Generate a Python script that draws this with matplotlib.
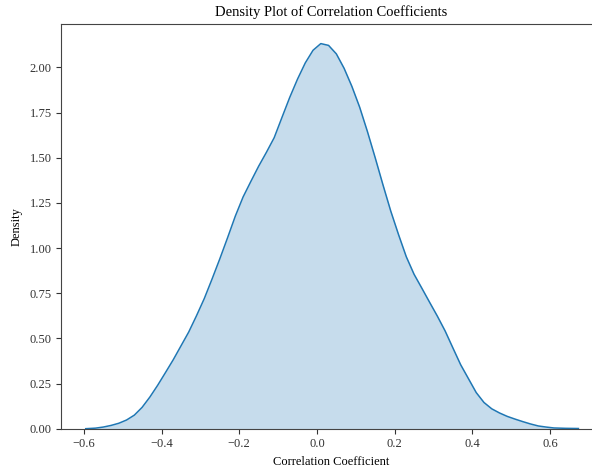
import matplotlib
matplotlib.use('Agg')
import matplotlib.pyplot as plt

# KDE curve
corr_x = [-0.595, -0.57, -0.55, -0.53, -0.51, -0.49, -0.47, -0.45, -0.43,
          -0.41, -0.39, -0.37, -0.35, -0.33, -0.31, -0.29, -0.27, -0.25,
          -0.23, -0.21, -0.19, -0.17, -0.15, -0.13, -0.11, -0.09, -0.07,
          -0.05, -0.03, -0.01, 0.01, 0.03, 0.05, 0.07, 0.09, 0.11, 0.13,
          0.15, 0.17, 0.19, 0.21, 0.23, 0.25, 0.27, 0.29, 0.31, 0.33, 0.35,
          0.37, 0.39, 0.41, 0.43, 0.45, 0.47, 0.49, 0.51, 0.53, 0.55, 0.57,
          0.59, 0.61, 0.64, 0.673]
density = [0.000, 0.003, 0.009, 0.018, 0.030, 0.048, 0.075, 0.118, 0.175,
           0.240, 0.310, 0.381, 0.458, 0.535, 0.625, 0.720, 0.828, 0.940,
           1.057, 1.177, 1.283, 1.369, 1.453, 1.530, 1.611, 1.723, 1.834,
           1.935, 2.025, 2.095, 2.132, 2.122, 2.075, 1.995, 1.895, 1.780,
           1.645, 1.500, 1.350, 1.205, 1.075, 0.952, 0.855, 0.778, 0.700,
           0.623, 0.541, 0.447, 0.354, 0.277, 0.200, 0.145, 0.110, 0.087,
           0.068, 0.053, 0.039, 0.026, 0.015, 0.009, 0.004, 0.002, 0.001]

x_ticks = [-0.6, -0.4, -0.2, 0.0, 0.2, 0.4, 0.6]
y_ticks = [0.00, 0.25, 0.50, 0.75, 1.00, 1.25, 1.50, 1.75, 2.00]
# the reference is cut off on the right, so the view ends at 0.708
x_limits = (-0.658, 0.708)


def main():
    plt.rcParams['font.family'] = ['Liberation Serif', 'DejaVu Serif']

    fig = plt.figure(figsize=(5.92, 4.68), dpi=100)
    ax = fig.add_axes([0.1035, 0.084, 0.8965, 0.864])

    ax.plot(corr_x, density, color='#1f77b4', linewidth=1.1)
    ax.fill_between(corr_x, density, 0, color='#1f77b4', alpha=0.25, linewidth=0)
    ax.margins(x=0.05, y=0.05)
    ax.set_ylim(bottom=0)
    ax.set_xlim(*x_limits)

    ax.set_xticks(x_ticks)
    ax.set_yticks(y_ticks)
    ax.set_xticklabels([('%.1f' % v).replace('-', '\u2212') for v in x_ticks])
    ax.set_yticklabels(['%.2f' % v for v in y_ticks])
    ax.tick_params(labelsize=9, colors='#333333', length=3.5)
    for s in ax.spines.values():
        s.set_color('#444444')
    ax.spines['right'].set_visible(False)

    # title and xlabel centred on the uncropped axes width
    ax.set_title('Density Plot of Correlation Coefficients', fontsize=10.5, x=0.509)
    ax.set_xlabel('Correlation Coefficient', fontsize=9, x=0.509)
    ax.set_ylabel('Density', fontsize=9, labelpad=5)

    fig.savefig('out.png', dpi=100)


if __name__ == '__main__':
    main()
